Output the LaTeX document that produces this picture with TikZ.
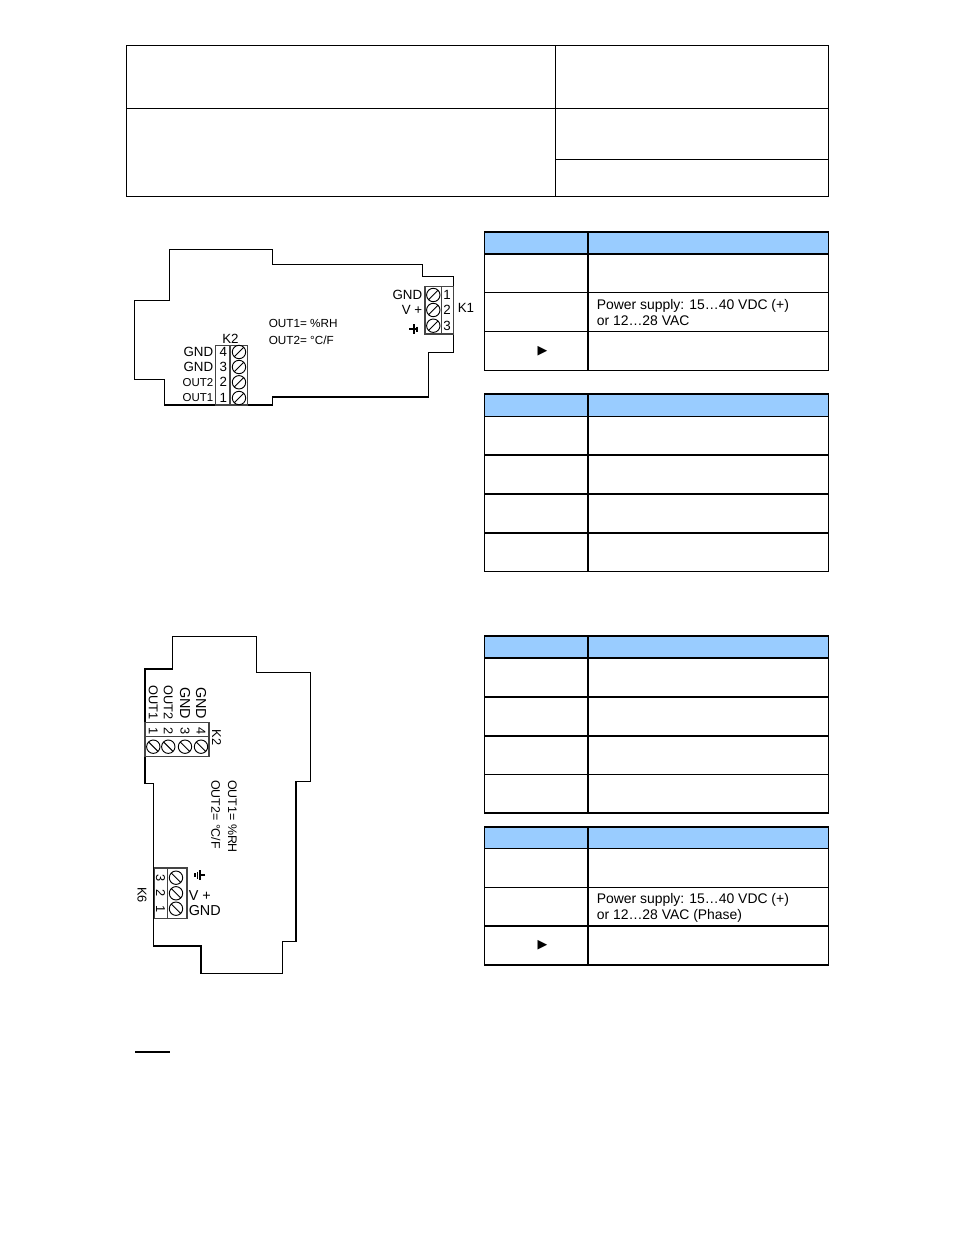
\documentclass[tikz,border=0pt]{standalone}
\usepackage{fontspec}
\setmainfont{Liberation Sans}
\newfontfamily\symfont{DejaVu Sans}
\usepackage{tikz}
\definecolor{headblue}{HTML}{99CCFF}
\definecolor{blockgray}{HTML}{444444}
\tikzset{
  thin line/.style={line width=1pt},
  thick line/.style={line width=2pt},
  board/.style={line width=1pt},
  block/.style={line width=1pt,draw=blockgray},
  screw/.style={line width=0.7pt},
  tabletext/.style={inner sep=0pt,font=\fontsize{10.45}{12}\selectfont,anchor=base west},
  pinlabel/.style={inner sep=0pt,font=\fontsize{10}{11}\selectfont},
  biglabel/.style={inner sep=0pt,font=\fontsize{10.8}{12}\selectfont},
  smalllabel/.style={inner sep=0pt,font=\fontsize{8.6}{10}\selectfont},
  notelabel/.style={inner sep=0pt,font=\fontsize{8.8}{10}\selectfont,anchor=west},
  vlabel/.style={inner sep=0pt,font=\fontsize{9.6}{10}\selectfont},
  earth/.style={line width=1pt},
  pointer/.style={inner sep=0pt,font=\symfont\fontsize{9.5}{12}\selectfont},
}
\begin{document}
\begin{tikzpicture}[x=0.75pt,y=-0.75pt]
        \useasboundingbox (0,0) rectangle (954,1235);
        \fill[white] (0,0) rectangle (954,1235);
        % top table
        \draw[thin line] (126.5,45.5) rectangle (828.5,196.5);
        \draw[thin line] (126.5,108.5)--(828.5,108.5);
        \draw[thin line] (555.5,45.5)--(555.5,196.5);
        \draw[thin line] (555.5,159.5)--(828.5,159.5);
        % first board
        \draw[board] (169.5,249.5)--(272.5,249.5)--(272.5,264.5)--(422.5,264.5)--(422.5,276.5)--(453.5,276.5)--(453.5,352.5)--(428.5,352.5)--(428.5,397)--(272.5,397)--(272.5,405)--(164.5,405)--(164.5,379.5)--(134.5,379.5)--(134.5,300.5)--(169.5,300.5)--cycle;
        \draw[block,fill=white] (425,286.7) rectangle (453.3,334);
        \draw[block] (441.7,286.7)--(441.7,334);
        \foreach \y/\n/\t in {295/1/GND,310/2/V +,325.7/3/} {
            \draw[screw] (433.3,\y) circle (6.7) (428.6,\y+4.7)--(438,\y-4.7);
            \node[pinlabel] (ka\n) at (447,\y) {\n};
            \node[pinlabel,anchor=east] (kb\n) at (422.5,\y) {\t};
        }
        \draw[earth] (409,329)--(417,329) (414,324)--(414,334) (417,326.5)--(417,331.5);
        \node[pinlabel] (kone) at (466,307.5) {K1};
        \draw[block,fill=white] (215.7,345.3) rectangle (247.7,405);
        \draw[block] (230,345.3)--(230,405);
        \foreach \y/\n/\t/\s in {352/4/GND/pinlabel,367/3/GND/pinlabel,382.3/2/OUT2/smalllabel,398/1/OUT1/smalllabel} {
            \draw[screw] (239,\y) circle (6.7) (234.3,\y+4.7)--(243.7,\y-4.7);
            \node[pinlabel] (ta\n) at (223.3,\y) {\n};
            \node[\s,anchor=east] (tb\n) at (213.5,\y) {\t};
        }
        \node[pinlabel] (ktwo) at (230.5,338.5) {K2};
        \node[notelabel] (outa) at (268.5,323.5) {OUT1= \%RH};
        \node[notelabel] (outb) at (268.5,340) {OUT2= °C/F};
        % second board
        \draw[board] (172.5,636.5)--(256.5,636.5)--(256.5,672.5)--(310.5,672.5)--(310.5,781.5)--(296,781.5)--(296,941.5)--(282.5,941.5)--(282.5,973.5)--(201,973.5)--(201,946)--(153.5,946)--(153.5,783.5)--(145,783.5)--(145,669)--(172.5,669)--cycle;
        \draw[block,fill=white] (145,722.3) rectangle (209,756.7);
        \draw[block] (145,736.7)--(209,736.7);
        \foreach \x/\n/\t/\s in {153.3/1/OUT1/vlabel,168.3/2/OUT2/vlabel,185/3/GND/biglabel,201/4/GND/biglabel} {
            \draw[screw] (\x,746.7) circle (6.7) (\x-4.7,742)--(\x+4.7,751.4);
            \node[vlabel,rotate=-90] (va\n) at (\x,730.7) {\n};
            \node[\s,rotate=-90,anchor=east] (vb\n) at (\x,719.5) {\t};
        }
        \node[vlabel,rotate=-90] (vtwo) at (216.5,737.5) {K2};
        \node[notelabel,rotate=-90,font=\fontsize{9.3}{10}\selectfont] (vouta) at (232.3,780) {OUT1= \%RH};
        \node[notelabel,rotate=-90,font=\fontsize{9.3}{10}\selectfont] (voutb) at (215.7,780) {OUT2= °C/F};
        \draw[block,fill=white] (154.3,868) rectangle (187,918.7);
        \draw[block] (167.7,868)--(167.7,918.7);
        \foreach \y/\n/\t in {877.7/3/,893.3/2/V +,908.7/1/GND} {
            \draw[screw] (176,\y) circle (6.7) (171.3,\y-4.7)--(180.7,\y+4.7);
            \node[vlabel,rotate=-90] (ha\n) at (160.5,\y) {\n};
            \node[biglabel,anchor=west] (hb\n) at (188.5,\y+2) {\t};
        }
        \draw[earth] (205,875)--(200,875) (200,870)--(200,880) (197.5,871.5)--(197.5,878.5) (195,873)--(195,877);
        \node[vlabel,rotate=-90] (hsix) at (142,895) {K6};
        % table k1
        \fill[headblue] (484.5,232)--(828.5,232)--(828.5,254)--(484.5,254)--cycle;
        \draw[thin line] (484.5,232) rectangle (828.5,370.5);
        \draw[thick line] (484.5,254)--(828.5,254);
        \draw[thin line] (484.5,292.5)--(828.5,292.5) (484.5,331.5)--(828.5,331.5);
        \draw[thick line] (588,232)--(588,370.5);
        \node[tabletext] (powa) at (596.5,309) {Power supply: 15…40 VDC (+)};
        \node[tabletext] (powb) at (596.5,325) {or 12…28 VAC};
        \node[pointer] (ptr) at (542.5,351) {▶};
        % table k2
        \fill[headblue] (484.5,394)--(828.5,394)--(828.5,416.5)--(484.5,416.5)--cycle;
        \draw[thin line] (484.5,394) rectangle (828.5,571.5);
        \draw[thick line] (484.5,394)--(828.5,394);
        \draw[thin line] (484.5,416.5)--(828.5,416.5);
        \foreach \y in {455,494,533} \draw[thick line] (484.5,\y)--(828.5,\y);
        \draw[thick line] (588,394)--(588,571.5);
        % table v2
        \fill[headblue] (484.5,636)--(828.5,636)--(828.5,658)--(484.5,658)--cycle;
        \draw[thin line] (484.5,636) rectangle (828.5,813);
        \foreach \y in {636,658,697,736} \draw[thick line] (484.5,\y)--(828.5,\y);
        \draw[thin line] (484.5,774.5)--(828.5,774.5);
        \draw[thick line] (588,636)--(588,813);
        % table v6
        \fill[headblue] (484.5,827)--(828.5,827)--(828.5,848.5)--(484.5,848.5)--cycle;
        \draw[thin line] (484.5,827) rectangle (828.5,965);
        \draw[thin line] (484.5,848.5)--(828.5,848.5) (484.5,887.5)--(828.5,887.5);
        \draw[thick line] (484.5,926)--(828.5,926) (484.5,965)--(828.5,965);
        \draw[thick line] (588,827)--(588,965);
        \node[tabletext] (vpowa) at (596.5,903) {Power supply: 15…40 VDC (+)};
        \node[tabletext] (vpowb) at (596.5,919.5) {or 12…28 VAC (Phase)};
        \node[pointer] (vptr) at (542.5,945) {▶};
        % underline
        \draw[thick line] (135,1052)--(170,1052);
    \end{tikzpicture}
\end{document}
